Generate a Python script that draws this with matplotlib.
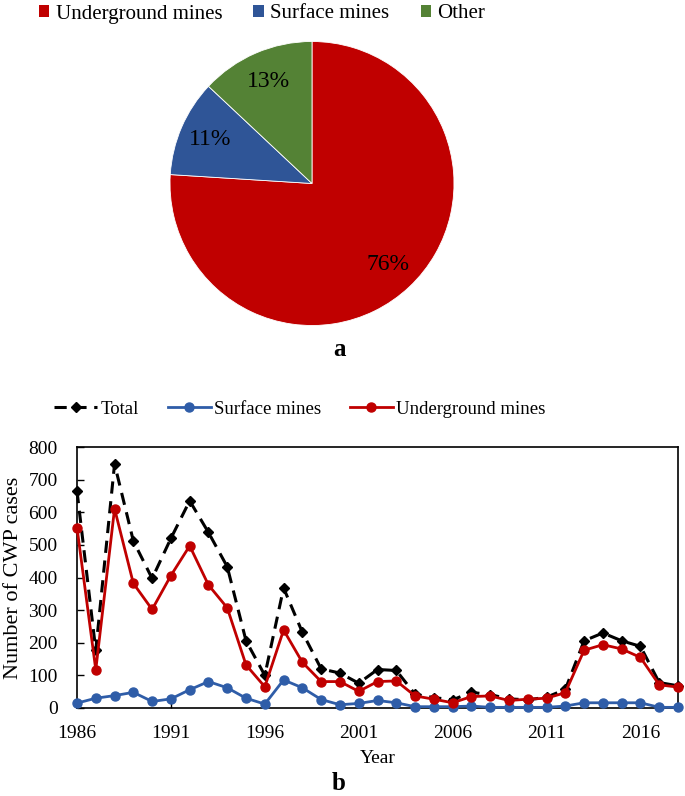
import matplotlib
matplotlib.use("Agg")
import matplotlib.pyplot as plt
from matplotlib.patches import Patch

plt.rcParams['font.family'] = ['Liberation Serif', 'DejaVu Serif']

# ---- data ----
pie_labels = ["Underground mines", "Surface mines", "Other"]
pie_values = [76, 11, 13]
pie_colors = ["#C00000", "#2F5597", "#548235"]

years = list(range(1986, 2019))
total = [665, 177, 748, 512, 397, 520, 635, 538, 433, 206, 100,
         368, 232, 120, 107, 76, 118, 115, 42, 32, 25, 48, 41, 28,
         25, 33, 57, 206, 230, 206, 189, 78, 68]
underground = [553, 117, 611, 382, 302, 406, 497, 377, 307, 132, 65,
               239, 140, 81, 81, 51, 81, 83, 37, 27, 16, 35, 37, 23,
               27, 30, 47, 177, 194, 181, 155, 71, 64]
surface = [15, 30, 38, 48, 20, 28, 56, 81, 62, 30, 12,
           86, 62, 26, 10, 14, 23, 16, 4, 4, 4, 6, 2, 2,
           2, 2, 6, 16, 16, 16, 16, 2, 2]
xtick_years = [1986, 1991, 1996, 2001, 2006, 2011, 2016]
ytick_vals = list(range(0, 801, 100))

W, H = 685, 796
fig = plt.figure(figsize=(W / 100, H / 100), dpi=100)

# ---- panel a: pie ----
cx, cy, r = 312, 183.5, 142
axp = fig.add_axes([(cx - r) / W, 1 - (cy + r) / H, 2 * r / W, 2 * r / H])
wedges, texts, autotexts = axp.pie(
    pie_values, colors=pie_colors, startangle=90, counterclock=False,
    autopct=lambda p: f"{p:.0f}%", pctdistance=0.78,
    wedgeprops=dict(edgecolor="white", linewidth=0.6),
    textprops=dict(fontsize=17, color="black"))
axp.set_xlim(-1, 1)
axp.set_ylim(-1, 1)
axp.axis("off")

handles_a = [Patch(facecolor=c, edgecolor="none") for c in pie_colors]
fig.legend(handles_a, pie_labels, loc="center", bbox_to_anchor=(262 / W, 1 - 14 / H),
           ncol=3, frameon=False, fontsize=15, handlelength=0.5, handleheight=0.5,
           handletextpad=0.3, columnspacing=1.5)

fig.text(340 / W, 1 - 350 / H, "a", fontsize=18, fontweight="bold",
         ha="center", va="center")

# ---- panel b: lines ----
left, right, top, bottom = 77, 678, 447, 708
ax = fig.add_axes([left / W, 1 - bottom / H, (right - left) / W, (bottom - top) / H])
ax.plot(years, total, color="black", linestyle=(0, (4, 2.5)), linewidth=2.2,
        marker="D", markersize=5, clip_on=False, zorder=3, label="Total")
ax.plot(years, surface, color="#2F5DA8", linewidth=2, marker="o", markersize=6.5,
        clip_on=False, zorder=4, label="Surface mines")
ax.plot(years, underground, color="#C00000", linewidth=2, marker="o", markersize=6.5,
        clip_on=False, zorder=5, label="Underground mines")

ax.set_xlim(1986, 2018)
ax.set_ylim(0, 800)
ax.set_xticks(xtick_years)
ax.set_yticks(ytick_vals)
ax.tick_params(direction="in", length=5, width=1, labelsize=14)
ax.tick_params(axis="y", pad=14)
ax.tick_params(axis="x", pad=12)
for s in ax.spines.values():
    s.set_linewidth(1.2)
ax.set_xlabel("Year", fontsize=14, labelpad=6)
ax.set_ylabel("Number of CWP cases", fontsize=16, labelpad=4)

fig.legend(*ax.get_legend_handles_labels(), loc="center",
           bbox_to_anchor=(300 / W, 1 - 409 / H), ncol=3, frameon=False, fontsize=13.5,
           handlelength=2.3, handletextpad=0.2, columnspacing=1.5)

fig.text(339 / W, 1 - 783 / H, "b", fontsize=18, fontweight="bold",
         ha="center", va="center")

fig.savefig("out.png", dpi=100)
